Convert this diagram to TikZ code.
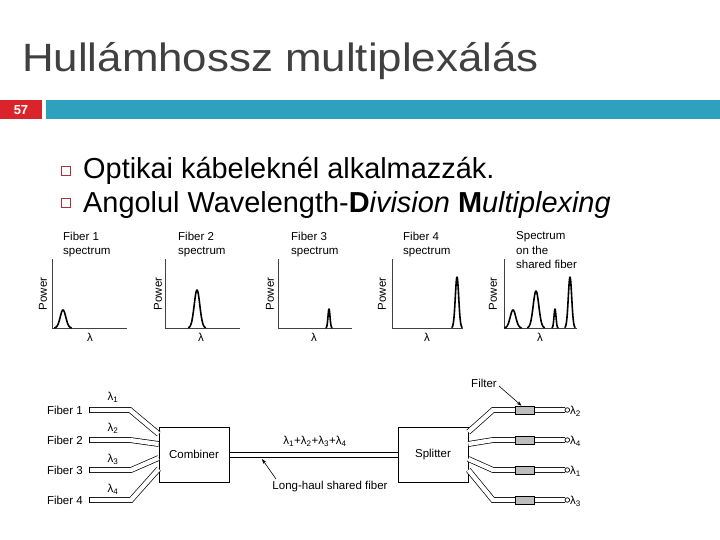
\documentclass[tikz,border=0pt]{standalone}
\usepackage{graphicx}
\usepackage{fontspec}
\setmainfont{Liberation Sans}
\usetikzlibrary{arrows.meta}
\definecolor{teal1}{HTML}{2EA1BF}
\definecolor{red1}{HTML}{D9242B}
\definecolor{bul}{HTML}{A8323E}
\definecolor{ttl}{HTML}{404040}
\definecolor{filtgray}{HTML}{BDBDBD}
\begin{document}
\begin{tikzpicture}[x=1pt,y=-1pt,
  lab/.style={font=\fontsize{11.5}{14}\selectfont, inner sep=0pt},
  ttlab/.style={font=\fontsize{11.5}{14.5}\selectfont, inner sep=0pt, align=left, anchor=north west},
  powlab/.style={font=\fontsize{11.5}{14}\selectfont, inner sep=0pt, rotate=90},
  fiber/.style={draw=black, line width=0.7pt, double=white, double distance=4.3pt},
  capline/.style={line width=0.7pt},
  bigbox/.style={draw, line width=0.7pt, fill=white, minimum width=70pt, minimum height=55pt, inner sep=0pt, font=\fontsize{11.5}{14}\selectfont},
  axisline/.style={line width=0.6pt, draw=black!75},
  peak/.style={line width=1.6pt, line join=round, line cap=round},
  filt/.style={draw, line width=0.6pt, fill=filtgray, minimum width=19pt, minimum height=8pt, inner sep=0pt},
  pointer/.style={line width=0.6pt, -{Stealth[length=5pt,width=3.5pt]}},
  bullet/.style={draw=bul, line width=1pt},
  bigtext/.style={anchor=base west, inner sep=0pt, font=\fontsize{28.9}{32}\selectfont}
]
\useasboundingbox (0,0) rectangle (720,540);

% title
\node[anchor=base west, inner sep=0pt, text=ttl, font=\fontsize{39.5}{44}\selectfont] (title) at (22,72) {\scalebox{1.11}[1]{Hullámhossz multiplexálás}};

% header bar
\fill[red1] (0,100) rectangle (42,119);
\node[text=white, inner sep=0pt, font=\bfseries\fontsize{13}{14}\selectfont] (pnum) at (21,110) {57};
\fill[teal1] (46,100) rectangle (720,119);

% bullets
\draw[bullet] (61,166.5) rectangle (70,175.5);
\node[bigtext] (b1) at (83,179) {Optikai kábeleknél alkalmazzák.};
\draw[bullet] (61,198.5) rectangle (70,207.5);
\node[bigtext] (b2) at (83,212) {Angolul Wavelength-\textbf{D}\textit{ivision} \textbf{M}\textit{ultiplexing}};

% spectra panels
% panel 1
\draw[axisline] (52,259) -- (52,328) -- (127,328);
\node[ttlab] (t1) at (63,231.5) {Fiber 1\\spectrum};
\node[powlab] (p1) at (43,294) {Power};
\node[lab] (w1) at (90,337) {λ};
\draw[peak] plot[domain=54.6:71.4, samples=50] (\x,{328-18*exp(-((\x-63)/2.8)^2/2)});
% panel 2
\draw[axisline] (165,259) -- (165,328) -- (240,328);
\node[ttlab] (t2) at (178,231.5) {Fiber 2\\spectrum};
\node[powlab] (p2) at (158,294) {Power};
\node[lab] (w2) at (201,337) {λ};
\draw[peak] plot[domain=188.6:205.4, samples=50] (\x,{328-38*exp(-((\x-197)/2.8)^2/2)});
% panel 3
\draw[axisline] (278,259) -- (278,328) -- (352,328);
\node[ttlab] (t3) at (291,231.5) {Fiber 3\\spectrum};
\node[powlab] (p3) at (270,294) {Power};
\node[lab] (w3) at (314,337) {λ};
\draw[peak] plot[domain=326:332, samples=40] (\x,{328-19*exp(-((\x-329)/1.0)^2/2)});
% panel 4
\draw[axisline] (392,259) -- (392,328) -- (463,328);
\node[ttlab] (t4) at (403,231.5) {Fiber 4\\spectrum};
\node[powlab] (p4) at (382,294) {Power};
\node[lab] (w4) at (427,337) {λ};
\draw[peak] plot[domain=451.9:462.1, samples=50] (\x,{328-51*exp(-((\x-457)/1.7)^2/2)});
% panel 5
\draw[axisline] (504,259) -- (504,328) -- (577,328);
\node[ttlab] (t5) at (516,231.5) {Spectrum\\on the\\shared fiber};
\node[powlab] (p5) at (493,294) {Power};
\node[lab] (w5) at (540,337) {λ};
\draw[peak] plot[domain=504.6:521.4, samples=50] (\x,{328-18*exp(-((\x-513)/2.8)^2/2)});
\draw[peak] plot[domain=527.6:544.4, samples=50] (\x,{328-37*exp(-((\x-536)/2.8)^2/2)});
\draw[peak] plot[domain=552:558, samples=40] (\x,{328-19*exp(-((\x-555)/1.0)^2/2)});
\draw[peak] plot[domain=564.9:575.1, samples=50] (\x,{328-51*exp(-((\x-570)/1.7)^2/2)});

% bottom diagram
\node[bigbox] (comb) at (194,454.5) {Combiner};
\node[bigbox] (split) at (433,454.5) {Splitter};

% input fibers
\node[lab, anchor=east] (f1) at (83,410) {Fiber 1};
\node[lab, anchor=east] (f2) at (83,440) {Fiber 2};
\node[lab, anchor=east] (f3) at (83,470) {Fiber 3};
\node[lab, anchor=east] (f4) at (83,500) {Fiber 4};
\coordinate (s1) at (89,410); \coordinate (k1) at (130,410);
\coordinate (s2) at (89,440); \coordinate (k2) at (130,440);
\coordinate (s3) at (89,470); \coordinate (k3) at (131,470);
\coordinate (s4) at (89,500); \coordinate (k4) at (131,500);
\draw[fiber] (s1) -- (k1) -- ([yshift=20.5pt]comb.west);
\draw[fiber] (s2) -- (k2) -- ([yshift=10.5pt]comb.west);
\draw[fiber] (s3) -- (k3) -- ([yshift=-3.5pt]comb.west);
\draw[fiber] (s4) -- (k4) -- ([yshift=-14.5pt]comb.west);
\foreach \s in {s1,s2,s3,s4}
  \draw[capline] ([yshift=2.85pt]\s) -- ([yshift=-2.85pt]\s);
\node[lab] (l1) at (113,397) {λ\textsubscript{1}};
\node[lab] (l2) at (113,428) {λ\textsubscript{2}};
\node[lab] (l3) at (113,459) {λ\textsubscript{3}};
\node[lab] (l4) at (113,489) {λ\textsubscript{4}};

% shared fiber (two parallel walls)
\draw[capline] ([yshift=2.5pt]comb.east) -- ([yshift=2.5pt]split.west);
\draw[capline] ([yshift=-2.5pt]comb.east) -- ([yshift=-2.5pt]split.west);
\node[lab] (sum) at (315,441) {λ\textsubscript{1}+λ\textsubscript{2}+λ\textsubscript{3}+λ\textsubscript{4}};
\node[lab] (lh) at (330,487) {Long-haul shared fiber};
\coordinate (lhtip) at (262,459);
\draw[pointer] (276,479) -- (lhtip);

% output fibers
\coordinate (k5) at (493,410); \coordinate (e5) at (565,410);
\coordinate (k6) at (493,440); \coordinate (e6) at (565,440);
\coordinate (k7) at (493,470); \coordinate (e7) at (565,470);
\coordinate (k8) at (493,500); \coordinate (e8) at (565,500);
\draw[fiber] ([yshift=22.5pt]split.east) -- (k5) -- (e5);
\draw[fiber] ([yshift=10.5pt]split.east) -- (k6) -- (e6);
\draw[fiber] ([yshift=-4.5pt]split.east) -- (k7) -- (e7);
\draw[fiber] ([yshift=-15.5pt]split.east) -- (k8) -- (e8);
\foreach \e in {e5,e6,e7,e8}
  \draw[line width=0.7pt, fill=white] ([xshift=2.3pt]\e) circle[radius=2.3pt];
\node[filt] (fa) at (524.5,410) {};
\node[filt] (fb) at (524.5,440) {};
\node[filt] (fc) at (524.5,470) {};
\node[filt] (fd) at (524.5,500) {};
\node[lab, anchor=west] (o1) at (570,411) {λ\textsubscript{2}};
\node[lab, anchor=west] (o2) at (570,441) {λ\textsubscript{4}};
\node[lab, anchor=west] (o3) at (570,471) {λ\textsubscript{1}};
\node[lab, anchor=west] (o4) at (570,501) {λ\textsubscript{3}};
\node[lab] (flab) at (484,383) {Filter};
\draw[pointer] ([xshift=2pt,yshift=-3pt]flab.east) -- ([xshift=-3pt]fa.north);
\end{tikzpicture}
\end{document}
